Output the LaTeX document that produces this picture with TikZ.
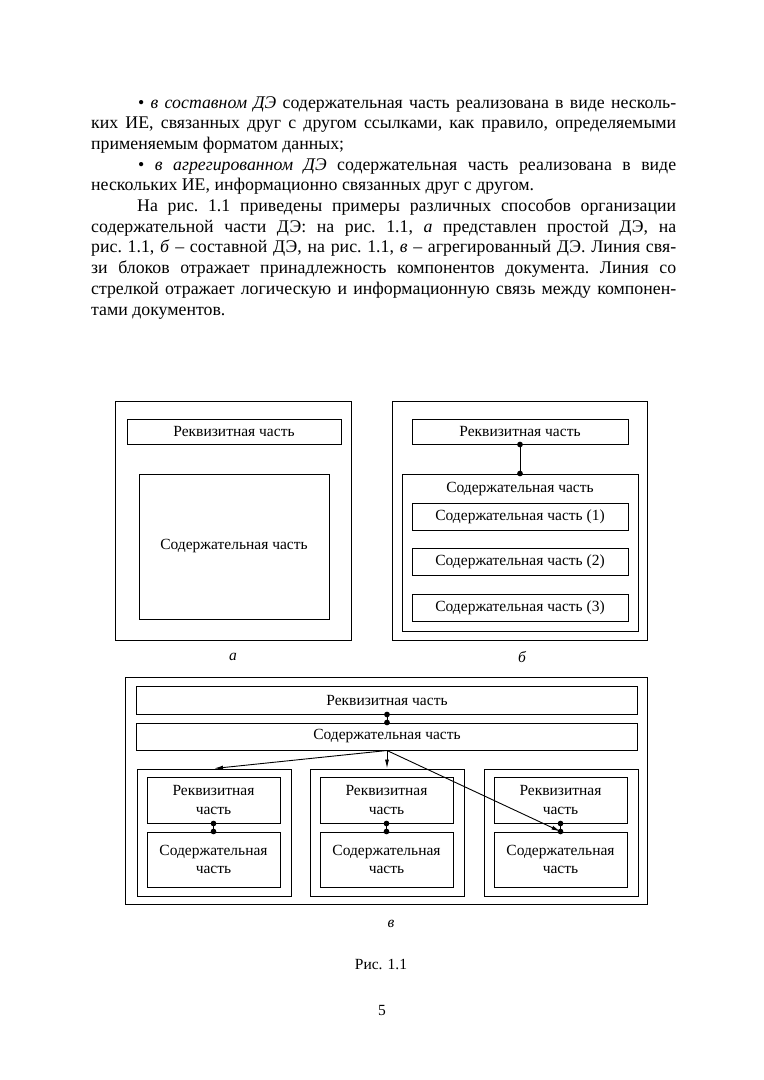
\documentclass[tikz,border=0pt]{standalone}
\usepackage{fontspec}
\setmainfont{Liberation Serif}
\usetikzlibrary{arrows.meta}
\hyphenpenalty=10000
\exhyphenpenalty=10000

\begin{document}
\begin{tikzpicture}[x=1bp, y=-1bp,
  box/.style={draw, line width=1bp, inner sep=0pt, align=center, font=\fontsize{15.5bp}{18.5bp}\selectfont},
  sz/.style 2 args={minimum width=#1bp, minimum height=#2bp},
  para/.style={anchor=base west, inner sep=0pt, text width=585bp, align=justify, font=\fontsize{17.8bp}{20.7bp}\selectfont\frenchspacing},
  lbl/.style={inner sep=0pt, font=\fontsize{15.5bp}{18bp}\selectfont},
  link/.style={line width=1bp, {Circle[length=5.6bp]}-{Circle[length=5.6bp]}, shorten <=-2.8bp, shorten >=-2.8bp},
  ref/.style={line width=0.9bp, -{Latex[length=9bp,width=4bp]}}]
\useasboundingbox (0,0) rectangle (764,1080);

\node[para] (txt) at (91,108) {%
\hspace*{47bp}\textbullet\ \textit{в составном ДЭ} содержательная часть реализована в виде несколь-\linebreak
ких ИЕ, связанных друг с другом ссылками, как правило, определяемыми\linebreak
применяемым форматом данных;\par
\hspace*{47bp}\textbullet\ \textit{в агрегированном ДЭ} содержательная часть реализована в виде\linebreak
нескольких ИЕ, информационно связанных друг с другом.\par
\hspace*{46bp}На рис. 1.1 приведены примеры различных способов организации\linebreak
содержательной части ДЭ: на рис. 1.1, \textit{а} представлен простой ДЭ, на\linebreak
рис. 1.1, \textit{б} – составной ДЭ, на рис. 1.1, \textit{в} – агрегированный ДЭ. Линия свя-\linebreak
зи блоков отражает принадлежность компонентов документа. Линия со\linebreak
стрелкой отражает логическую и информационную связь между компонен-\linebreak
тами документов.};

% а
\node[box, sz={235}{239}] (ao) at (233.5,520.5) {};
\node[box, sz={214}{25}] (ar) at (234,431.5) {Реквизитная часть};
\node[box, sz={190}{145}] (ac) at (234,546.5) {Содержательная часть};
\node[lbl, font=\fontsize{15.5bp}{18bp}\selectfont\itshape] (la) at (233,657) {а};

% б
\node[box, sz={255}{239}] (bo) at (519.5,520.5) {};
\node[box, sz={216}{25}] (br) at (520,431.5) {Реквизитная часть};
\node[box, sz={236}{157}] (bc) at (520,552.5) {};
\node[lbl] (bt) at (520,489) {Содержательная часть};
\node[box, sz={216}{27}] (b1) at (520,516.5) {Содержательная часть (1)};
\node[box, sz={216}{27}] (b2) at (520,561.5) {Содержательная часть (2)};
\node[box, sz={216}{27}] (b3) at (520,607.5) {Содержательная часть (3)};
\draw[link] (br.south) -- (bc.north);
\node[lbl, font=\fontsize{15.5bp}{18bp}\selectfont\itshape] (lb) at (522,657) {б};

% в
\node[box, sz={521}{227}] (vo) at (386.5,790.5) {};
\node[box, sz={500}{28}] (vr) at (387,700) {Реквизитная часть};
\node[box, sz={500}{27}] (vc) at (387,736.5) {Содержательная часть};
\node[box, sz={154}{127}] (vo1) at (214,832.5) {};
\node[box, sz={154}{127}] (vo2) at (387,832.5) {};
\node[box, sz={154}{127}] (vo3) at (561,832.5) {};
\node[box, sz={133}{46}] (vr1) at (213.5,800) {Реквизитная\\часть};
\node[box, sz={133}{55}] (vc1) at (213.5,859.5) {Содержательная\\часть};
\node[box, sz={133}{46}] (vr2) at (386.5,800) {Реквизитная\\часть};
\node[box, sz={133}{55}] (vc2) at (386.5,859.5) {Содержательная\\часть};
\node[box, sz={133}{46}] (vr3) at (560.5,800) {Реквизитная\\часть};
\node[box, sz={133}{55}] (vc3) at (560.5,859.5) {Содержательная\\часть};
\draw[ref] (vc.south) -- (vo1.north);
\draw[ref] (vc.south) -- (vo2.north);
\draw[ref] (vc.south) -- (vc3.north);
\draw[link] (vr.south) -- (vc.north);
\draw[link] (vr1.south) -- (vc1.north);
\draw[link] (vr2.south) -- (vc2.north);
\draw[link] (vr3.south) -- (vc3.north);
\node[lbl, font=\fontsize{15.5bp}{18bp}\selectfont\itshape] (lv) at (391,924) {в};

\node[lbl] (cap) at (381,964) {Рис. 1.1};
\node[lbl] (pg) at (382,1010) {5};
\end{tikzpicture}
\end{document}
